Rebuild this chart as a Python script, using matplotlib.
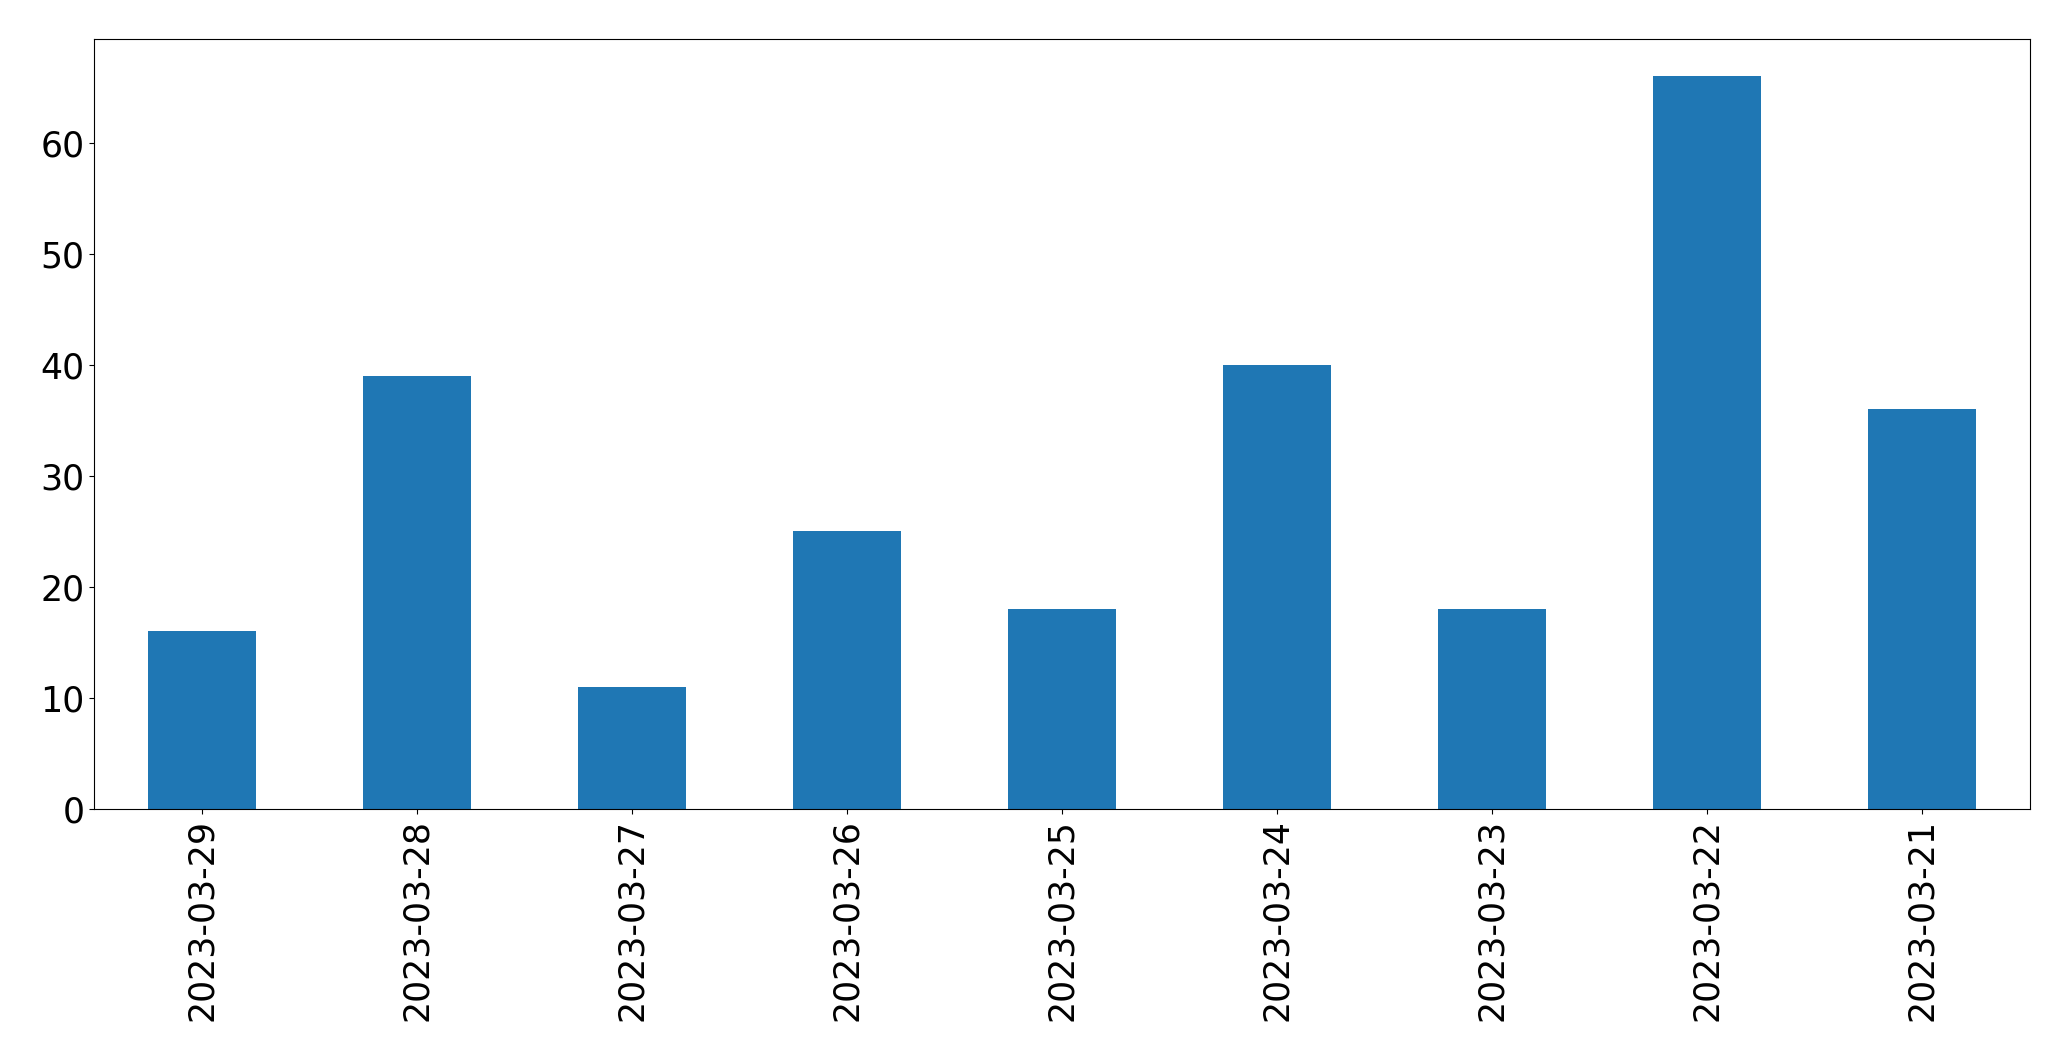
import matplotlib
matplotlib.use("Agg")
import matplotlib.pyplot as plt
import pandas as pd

# Daily counts, in the order shown (newest first)
DATES = ["2023-03-29", "2023-03-28", "2023-03-27", "2023-03-26", "2023-03-25",
         "2023-03-24", "2023-03-23", "2023-03-22", "2023-03-21"]
COUNTS = [16, 39, 11, 25, 18, 40, 18, 66, 36]

s = pd.Series(COUNTS, index=DATES)

fig, ax = plt.subplots(figsize=(20.71, 10.61), dpi=100)
s.plot(kind="bar", ax=ax, color="#1f77b4", width=0.5)
ax.tick_params(axis="both", labelsize=25)
ax.tick_params(axis="x", labelrotation=90)

fig.subplots_adjust(left=0.0456, right=0.980, top=0.963, bottom=0.2375)
fig.savefig("out.png", dpi=100)
